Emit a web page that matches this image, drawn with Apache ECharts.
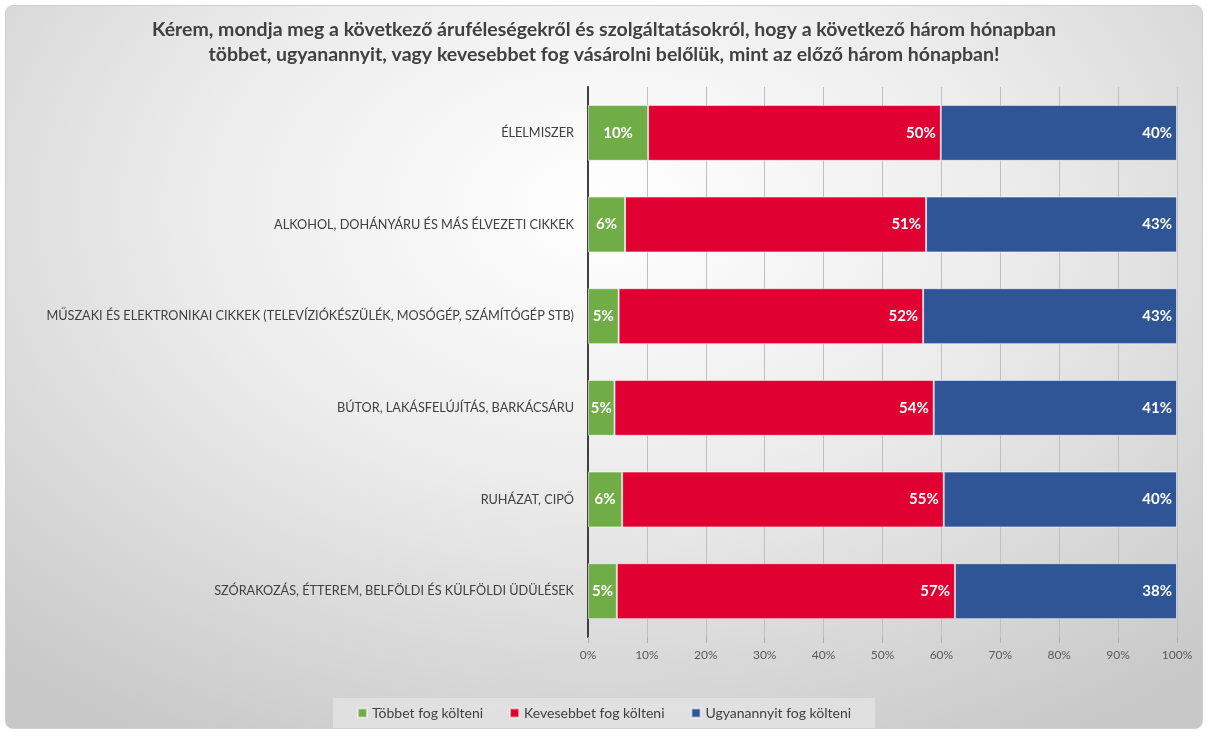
<!DOCTYPE html>
<html>
<head>
<meta charset="utf-8">
<script src="https://cdn.jsdelivr.net/npm/echarts@6/dist/echarts.min.js"></script>
<style>
  html, body { margin: 0; padding: 0; background: #fff; }
  #chart {
    position: absolute; left: 5px; top: 5px; width: 1198px; height: 724px;
    border-radius: 8px; border: 1px solid #d0d0d0; box-sizing: border-box;
    background: radial-gradient(ellipse 75% 85% at 50% 28%, #ffffff 0%, #ececec 45%, #c8c8c8 100%);
  }
</style>
</head>
<body>
<div id="chart"></div>
<script>
// kategóriák, fentről lefelé
var categories = [
    'ÉLELMISZER',
    'ALKOHOL, DOHÁNYÁRU ÉS MÁS ÉLVEZETI CIKKEK',
    'MŰSZAKI ÉS ELEKTRONIKAI CIKKEK (TELEVÍZIÓKÉSZÜLÉK, MOSÓGÉP, SZÁMÍTÓGÉP STB)',
    'BÚTOR, LAKÁSFELÚJÍTÁS, BARKÁCSÁRU',
    'RUHÁZAT, CIPŐ',
    'SZÓRAKOZÁS, ÉTTEREM, BELFÖLDI ÉS KÜLFÖLDI ÜDÜLÉSEK'
];
var seriesNames = ['Többet fog költeni', 'Kevesebbet fog költeni', 'Ugyanannyit fog költeni'];
var tobbet = [10.2, 6.3, 5.2, 4.5, 5.8, 4.9];
var kevesebbet = [49.7, 51.1, 51.7, 54.2, 54.6, 57.4];
var ugyanannyit = [40.1, 42.6, 43.1, 41.3, 39.6, 37.7];
var xTicks = [0, 10, 20, 30, 40, 50, 60, 70, 80, 90, 100];

var FONT = 'Lato, "Open Sans", sans-serif';

initChart();

function initChart() {
    var myChart = echarts.init(document.getElementById('chart'));

    var labelStyle = function (pos) {
        return {
            show: true,
            position: pos,
            color: '#fff',
            fontWeight: 'bold',
            fontSize: 15,
            fontFamily: FONT,
            formatter: function (p) { return Math.round(p.value) + '%'; }
        };
    };

    var makeSeries = function (name, data, color, pos) {
        return {
            name: name,
            type: 'bar',
            stack: 'total',
            barCategoryGap: '39%',
            data: data,
            itemStyle: {
                color: color,
                borderColor: 'rgba(255,255,255,0.55)',
                borderWidth: 1
            },
            label: labelStyle(pos)
        };
    };

    var option = {
        textStyle: { fontFamily: FONT },
        title: {
            text: 'Kérem, mondja meg a következő áruféleségekről és szolgáltatásokról, hogy a következő három hónapban\ntöbbet, ugyanannyit, vagy kevesebbet fog vásárolni belőlük, mint az előző három hónapban!',
            left: 'center',
            top: 6,
            textStyle: {
                color: '#404040',
                fontSize: 19.5,
                fontWeight: 'bold',
                fontFamily: FONT,
                lineHeight: 25
            }
        },
        legend: {
            bottom: 0,
            left: 'center',
            itemWidth: 9,
            itemHeight: 9,
            itemGap: 26,
            padding: [8, 24, 8, 24],
            backgroundColor: 'rgba(228,228,228,0.8)',
            icon: 'rect',
            textStyle: { color: '#404040', fontSize: 14, fontFamily: FONT },
            data: seriesNames
        },
        grid: {
            left: 582,
            right: 25,
            top: 81,
            bottom: 91
        },
        xAxis: {
            type: 'value',
            min: 0,
            max: 100,
            interval: 10,
            axisLine: { show: false },
            axisTick: { show: true, length: 6, lineStyle: { color: '#b0b0b0' } },
            splitLine: { show: true, lineStyle: { color: '#bfbfbf', width: 1 } },
            axisLabel: {
                color: '#595959',
                fontSize: 12,
                fontFamily: FONT,
                margin: 12,
                formatter: function (v) { return xTicks.indexOf(v) >= 0 ? v + '%' : ''; }
            }
        },
        yAxis: {
            type: 'category',
            inverse: true,
            data: categories,
            axisLine: { lineStyle: { color: '#404040', width: 2 } },
            axisTick: { show: false },
            axisLabel: {
                color: '#404040',
                fontSize: 12.7,
                fontFamily: FONT,
                margin: 14
            }
        },
        series: [
            makeSeries(seriesNames[0], tobbet, '#70ad47', 'inside'),
            makeSeries(seriesNames[1], kevesebbet, '#e00031', 'insideRight'),
            makeSeries(seriesNames[2], ugyanannyit, '#2f5597', 'insideRight')
        ]
    };
    myChart.setOption(option);
}
</script>
</body>
</html>
